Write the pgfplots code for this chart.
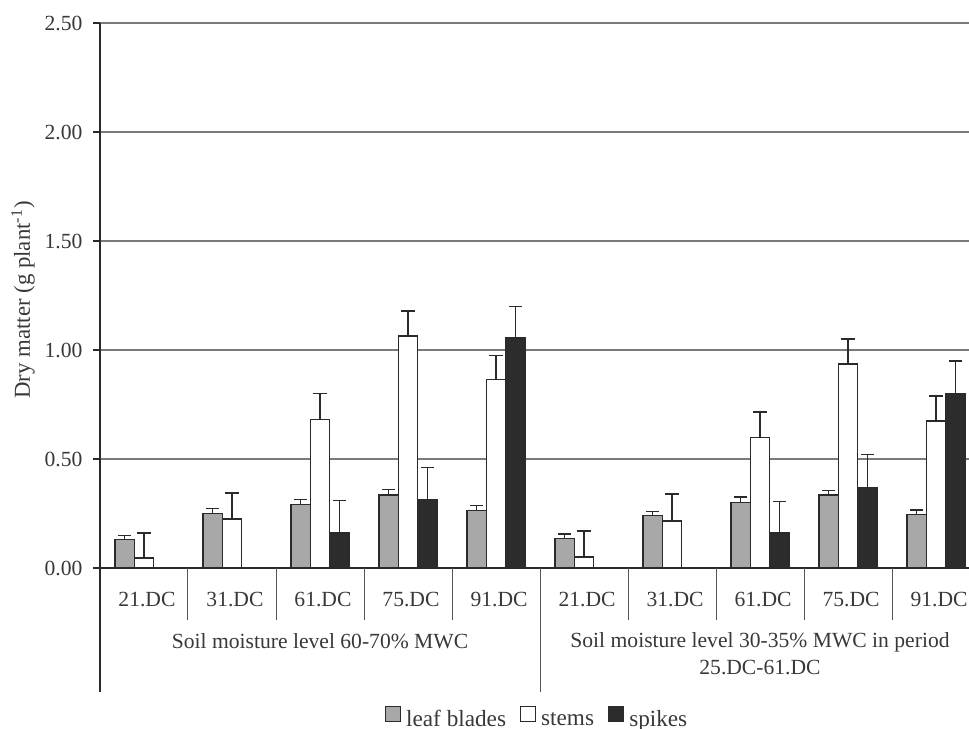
\documentclass[border=0pt]{standalone}
\usepackage{pgfplots}
\pgfplotsset{compat=1.18}
\usepackage{pgfplotstable}
\usepackage{fontspec}
\setmainfont{Liberation Serif}

\definecolor{txt}{HTML}{383838}
\definecolor{leaf}{HTML}{A8A8A8}
\definecolor{spike}{HTML}{2C2C2C}
\definecolor{edge}{HTML}{2A2A2A}
\definecolor{gridc}{HTML}{7A7A7A}

\pgfplotstableread{
x leaf leafe
0 0.13 0.018
1 0.25 0.022
2 0.29 0.025
3 0.335 0.025
4 0.265 0.022
5 0.135 0.020
6 0.24 0.020
7 0.30 0.025
8 0.335 0.020
9 0.245 0.020
}\leaftbl

\pgfplotstableread{
x stem steme
0 0.045 0.115
1 0.225 0.120
2 0.68 0.120
3 1.065 0.115
4 0.865 0.110
5 0.050 0.120
6 0.215 0.125
7 0.600 0.115
8 0.935 0.115
9 0.675 0.115
}\stemtbl

\pgfplotstableread{
x spike spikee
2 0.16 0.150
3 0.315 0.145
4 1.055 0.145
7 0.16 0.145
8 0.37 0.150
9 0.80 0.150
}\spiketbl

\begin{document}
\fontsize{10.8bp}{13bp}\selectfont
\begin{tikzpicture}[font=\fontsize{10.8bp}{13bp}\selectfont, every node/.style={text=txt}]
\path[use as bounding box] (-50bp,-80.5bp) rectangle (434.5bp,284bp);
\begin{axis}[
  at={(0,0)}, anchor=south west,
  scale only axis, width=434.5bp, height=272.5bp,
  xmin=-0.5, xmax=9.375, ymin=0, ymax=2.5,
  axis x line*=bottom, axis y line*=left,
  axis line style={edge, line width=0.6bp},
  ytick={0,0.5,1,1.5,2,2.5},
  yticklabel style={xshift=-1.5bp, /pgf/number format/.cd, fixed, fixed zerofill, precision=2, assume math mode=true},
  tick align=outside, major tick length=3.5bp,
  ytick style={edge, line width=0.6bp},
  ymajorgrids, grid style={gridc, line width=0.55bp},
  xtick={0,...,9},
  xtick style={draw=none},
  xticklabels={21.DC,31.DC,61.DC,75.DC,91.DC,21.DC,31.DC,61.DC,75.DC,91.DC},
  xticklabel style={anchor=base, yshift=-15.5bp, xshift=1.5bp},
  clip=false,
  legend image code/.code={\draw[#1, line width=0.5bp] (0bp,-0.6bp) rectangle (7.5bp,6.9bp); \path (9bp,0);},
  legend style={at={(axis description cs:0.503,-0.277)}, anchor=center,
    legend columns=-1, draw=none, fill=none, inner sep=0pt,
    font=\fontsize{11.6bp}{13bp}\selectfont,
    nodes={inner sep=1bp, text=txt},
    /tikz/every even column/.append style={column sep=6bp}},
  error bars/y dir=plus, error bars/y explicit,
  error bars/error bar style={edge, line width=0.75bp},
  error bars/error mark options={edge, line width=0.75bp, mark size=3.3bp, rotate=90},
]
\addplot[ybar, bar width=0.22, bar shift=0, fill=leaf, draw=edge, line width=0.7bp]
  table[x expr=\thisrow{x}-0.22, y=leaf, y error=leafe] {\leaftbl};
\addlegendentry{leaf blades}
\addplot[ybar, bar width=0.22, bar shift=0, fill=white, draw=edge, line width=0.7bp]
  table[x=x, y=stem, y error=steme] {\stemtbl};
\addlegendentry{stems}
\addplot[ybar, bar width=0.22, bar shift=0, fill=spike, draw=edge, line width=0.7bp]
  table[x expr=\thisrow{x}+0.22, y=spike, y error=spikee] {\spiketbl};
\addlegendentry{spikes}

% category separators
\pgfplotsinvokeforeach{0.5,1.5,2.5,3.5,5.5,6.5,7.5,8.5}{
  \draw[edge!80, line width=0.5bp] (axis cs:#1,0) -- ([yshift=-26bp]axis cs:#1,0);
}
\draw[edge!80, line width=0.5bp] (axis cs:4.5,0) -- ([yshift=-62bp]axis cs:4.5,0);
\draw[edge, line width=0.6bp] (axis cs:-0.5,0) -- ([yshift=-62bp]axis cs:-0.5,0);

\node[anchor=base] at ([yshift=-40bp]axis cs:2,0) {Soil moisture level 60-70\% MWC};
\node[anchor=base] at ([yshift=-39.5bp]axis cs:7,0) {Soil moisture level 30-35\% MWC in period};
\node[anchor=base] at ([yshift=-53bp]axis cs:7,0) {25.DC-61.DC};
\end{axis}
\node[rotate=90, anchor=center, font=\fontsize{11.4bp}{13bp}\selectfont] at (-38.5bp,134bp) {Dry matter (g plant\textsuperscript{-1})};
\end{tikzpicture}
\end{document}
